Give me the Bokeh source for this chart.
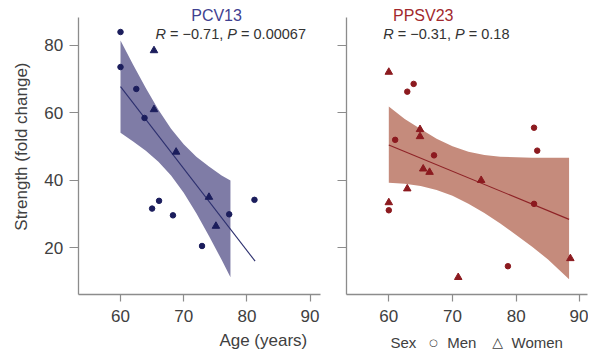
import math
from bokeh.plotting import figure
from bokeh.layouts import row
from bokeh.models import Range1d, Label, FixedTicker
from bokeh.embed import file_html
from bokeh.resources import INLINE

FONT = "Liberation Sans"

# ---------------- data ----------------
x_ticks = [60, 70, 80, 90]
y_ticks = [20, 40, 60, 80]

# PCV13
pcv_men_age = [60, 60, 62.5, 63.8, 65.0, 66.1, 68.3, 77.2, 72.9, 81.2]
pcv_men_val = [84.0, 73.6, 67.1, 58.5, 31.6, 33.9, 29.6, 29.9, 20.5, 34.2]
pcv_women_age = [65.3, 65.3, 68.8, 74.0, 75.1]
pcv_women_val = [78.5, 61.0, 48.4, 35.0, 26.4]
pcv_fit_age = [60, 81.3]
pcv_fit_val = [67.8, 16.0]
pcv_band_age = [60, 62, 64, 66, 68, 70, 72, 74, 76, 77.4]
pcv_band_low = [54.1, 51.5, 48.8, 45.5, 41.4, 36.3, 30.2, 23.5, 16.4, 11.2]
pcv_band_high = [81.5, 74.3, 67.4, 60.9, 55.3, 50.7, 47.0, 44.1, 41.4, 39.9]

# PPSV23
ppsv_men_age = [62.9, 63.9, 61.0, 67.1, 82.8, 83.3, 60.0, 82.8, 78.7]
ppsv_men_val = [66.3, 68.6, 52.0, 47.4, 55.6, 48.8, 31.1, 33.0, 14.5]
ppsv_women_age = [60.0, 64.9, 64.9, 65.4, 66.4, 74.5, 62.9, 60.0, 88.5, 70.9]
ppsv_women_val = [72.1, 55.1, 53.0, 43.4, 42.4, 40.0, 37.5, 33.4, 16.8, 11.2]
ppsv_fit_age = [60, 88.3]
ppsv_fit_val = [50.5, 28.4]
ppsv_band_age = [60, 62.5, 65, 67.5, 70, 72.5, 75, 77.5, 80, 82.5, 85, 88.3]
ppsv_band_low = [39.3, 39.0, 38.3, 37.1, 35.4, 33.0, 30.3, 27.2, 23.8, 20.3, 16.5, 10.6]
ppsv_band_high = [61.9, 58.2, 55.2, 52.3, 50.1, 48.5, 47.5, 47.0, 46.8, 46.7, 46.7, 46.7]

# axis extents (data units)
Y_AXIS_LO, Y_AXIS_HI = 6.02, 88.3

# ---------------- style ----------------
AXIS_C = "#8c8c8c"
TEXT_C = "#404040"
NAVY = "#1b1d5c"
NAVY_BAND = "#7f7ca6"
NAVY_LINE = "#2c2f6e"
RED = "#8c1a1f"
RED_BAND = "#c58b7c"
RED_LINE = "#8e2226"
NB = "\u00a0"
H = 350


def make_fig(width, xr, x_axis_lo, x_axis_hi, ylabels=True):
    p = figure(width=width, height=H, x_range=Range1d(*xr), y_range=Range1d(-10.51, 93.35),
               output_backend="svg", toolbar_location=None,
               min_border_left=0, min_border_right=0, min_border_top=0, min_border_bottom=0)
    p.outline_line_color = None
    p.xgrid.grid_line_color = None
    p.ygrid.grid_line_color = None
    p.background_fill_color = "white"
    p.border_fill_color = "white"
    for ax in (p.xaxis[0], p.yaxis[0]):
        ax.axis_line_color = AXIS_C
        ax.axis_line_width = 1.3
        ax.major_tick_line_color = AXIS_C
        ax.major_tick_line_width = 1.2
        ax.minor_tick_line_color = None
        ax.major_tick_in = 0
        ax.major_label_text_font = FONT
        ax.major_label_text_font_size = "17px"
        ax.major_label_text_color = TEXT_C
    p.xaxis.ticker = FixedTicker(ticks=x_ticks)
    p.yaxis.ticker = FixedTicker(ticks=y_ticks)
    p.xaxis.fixed_location = Y_AXIS_LO
    p.yaxis.fixed_location = x_axis_lo
    p.xaxis.bounds = (x_axis_lo, x_axis_hi)
    p.yaxis.bounds = (Y_AXIS_LO, Y_AXIS_HI)
    p.xaxis.major_tick_out = 7
    p.yaxis.major_tick_out = 9
    p.xaxis.major_label_standoff = 8
    p.yaxis.major_label_standoff = 6
    if not ylabels:
        p.yaxis.major_label_text_color = None
    return p


def lab(p, x, y, text, size, color=TEXT_C, align="left", style="normal", xoff=0, angle=0.0, font=FONT):
    p.add_layout(Label(x=x, y=y, text=text, text_font=font, text_font_size=f"{size}px",
                       text_color=color, text_align=align, text_baseline="middle",
                       text_font_style=style, x_offset=xoff, angle=angle))


# ---------------- left: PCV13 ----------------
p1 = make_fig(326, (41.007, 92.6), 53.3, 91.6)
p1.varea(x=pcv_band_age, y1=pcv_band_low, y2=pcv_band_high, fill_color=NAVY_BAND, fill_alpha=1.0)
p1.line(pcv_fit_age, pcv_fit_val, line_color=NAVY_LINE, line_width=1.1)
p1.scatter(pcv_men_age, pcv_men_val, marker="circle", size=5.5, color=NAVY)
p1.scatter(pcv_women_age, pcv_women_val, marker="triangle", size=7.5, color=NAVY)

lab(p1, 75.2, 88.9, "PCV13", 16, color="#3f4191", align="center")
lab(p1, 65.54, 83.3, "R", 14.5, color="#333333", style="italic")
lab(p1, 65.54, 83.3, NB + "=" + NB + "\u22120.71," + NB, 14.5, color="#333333", xoff=10.5)
lab(p1, 65.54, 83.3, "P", 14.5, color="#333333", style="italic", xoff=71.8)
lab(p1, 65.54, 83.3, NB + "=" + NB + "0.00067", 14.5, color="#333333", xoff=81.5)
lab(p1, 82.6, -7.55, "Age (years)", 17, align="center")
lab(p1, 44.3, 50.0, "Strength (fold change)", 17, align="center", angle=math.pi / 2)

# ---------------- right: PPSV23 ----------------
p2 = make_fig(262, (50.22, 91.35), 53.36, 91.2, ylabels=False)
p2.varea(x=ppsv_band_age, y1=ppsv_band_low, y2=ppsv_band_high, fill_color=RED_BAND, fill_alpha=1.0)
p2.line(ppsv_fit_age, ppsv_fit_val, line_color=RED_LINE, line_width=1.1)
p2.scatter(ppsv_men_age, ppsv_men_val, marker="circle", size=5.5, color=RED)
p2.scatter(ppsv_women_age, ppsv_women_val, marker="triangle", size=7.5, color=RED)

lab(p2, 65.4, 88.9, "PPSV23", 16, color="#a2282d", align="center")
lab(p2, 59.12, 83.3, "R", 14.5, color="#333333", style="italic")
lab(p2, 59.12, 83.3, NB + "=" + NB + "\u22120.31," + NB, 14.5, color="#333333", xoff=10.5)
lab(p2, 59.12, 83.3, "P", 14.5, color="#333333", style="italic", xoff=71.8)
lab(p2, 59.12, 83.3, NB + "=" + NB + "0.18", 14.5, color="#333333", xoff=81.5)

# legend
lab(p2, 60.27, -8.05, "Sex", 15)
lab(p2, 60.27, -8.05, "\u25CB", 10, align="center", xoff=43, font="DejaVu Sans")
lab(p2, 60.27, -8.05, "Men", 15, xoff=56.7)
lab(p2, 60.27, -8.05, "\u25B3", 14, align="center", xoff=107, font="DejaVu Sans")
lab(p2, 60.27, -8.05, "Women", 15, xoff=121)

layout = row(p1, p2)
open("out.html", "w").write(file_html(layout, INLINE))
